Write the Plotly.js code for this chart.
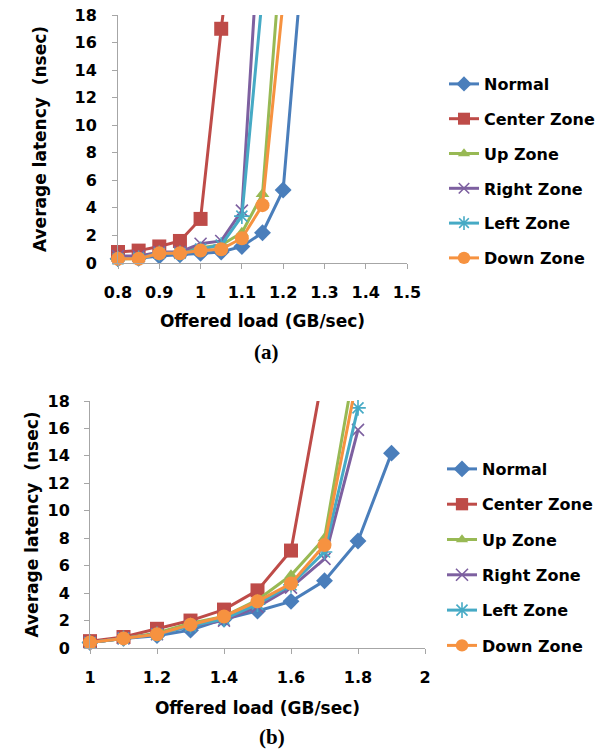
<!DOCTYPE html>
<html>
<head>
<meta charset="utf-8">
<script src="https://cdn.plot.ly/plotly-3.0.1.min.js"></script>
<style>html,body{margin:0;padding:0;background:#fff;}#chart{width:605px;height:749px;}</style>
</head>
<body>
<div id="chart"></div>
<script>
// ---- Data: chart (a) ----
const seriesNames = ["Normal", "Center Zone", "Up Zone", "Right Zone", "Left Zone", "Down Zone"];
const loadA = [0.8, 0.85, 0.9, 0.95, 1.0, 1.05, 1.1, 1.15, 1.2, 1.25];
const normalA = [0.3, 0.35, 0.5, 0.6, 0.7, 0.8, 1.2, 2.2, 5.3, 23];
const centerA = [0.8, 0.9, 1.2, 1.6, 3.2, 17, 29];
const upA     = [0.3, 0.3, 0.7, 0.8, 1.1, 1.3, 2.2, 5.0, 24.5];
const rightA  = [0.5, 0.5, 0.8, 0.8, 1.4, 1.6, 3.8, 28];
const leftA   = [0.3, 0.35, 0.7, 0.7, 1.0, 1.3, 3.4, 19.5];
const downA   = [0.3, 0.3, 0.7, 0.7, 0.9, 1.0, 1.8, 4.2, 19];

// ---- Data: chart (b) ----
const loadB = [1.0, 1.1, 1.2, 1.3, 1.4, 1.5, 1.6, 1.7, 1.8, 1.9];
const normalB = [0.4, 0.7, 0.9, 1.3, 2.1, 2.7, 3.4, 4.9, 7.8, 14.2];
const centerB = [0.5, 0.8, 1.4, 2.0, 2.8, 4.2, 7.1, 20.6];
const upB     = [0.4, 0.7, 1.1, 1.8, 2.3, 3.5, 5.3, 8.0, 22];
const rightB  = [0.4, 0.7, 1.0, 1.6, 2.0, 3.0, 4.4, 6.5, 15.9];
const leftB   = [0.4, 0.7, 1.0, 1.6, 2.1, 3.2, 4.6, 7.0, 17.5];
const downB   = [0.4, 0.7, 1.0, 1.7, 2.3, 3.4, 4.7, 7.5, 20];

const yTicks = [0, 2, 4, 6, 8, 10, 12, 14, 16, 18];
const yMax = 18;

// ---- Styles ----
const colors = ["#4A7EBB", "#BE4B48", "#98B954", "#7D60A0", "#46AAC5", "#F69240"];
const symbols = ["diamond", "square", "triangle-up", "x-thin-open", "asterisk-open", "circle"];
const sizes = [13, 14, 12, 12, 13, 14];

function mkTrace(i, xs, ys, xa, ya, leg) {
  const n = ys.length;
  return {
    type: "scatter", mode: "lines+markers",
    name: seriesNames[i],
    x: xs.slice(0, n), y: ys,
    xaxis: xa, yaxis: ya,
    legend: leg, legendgroup: leg + i,
    cliponaxis: false,
    line: {color: colors[i], width: 3},
    marker: {
      symbol: symbols[i], color: colors[i], opacity: 1,
      size: ys.map(v => v > yMax ? 0 : sizes[i]),
      line: {color: colors[i], width: (i === 3 || i === 4) ? 1.6 : 0}
    }
  };
}

const setA = [normalA, centerA, upA, rightA, leftA, downA];
const setB = [normalB, centerB, upB, rightB, leftB, downB];
const traces = [];
setA.forEach((ys, i) => traces.push(mkTrace(i, loadA, ys, "x", "y", "legend")));
setB.forEach((ys, i) => traces.push(mkTrace(i, loadB, ys, "x2", "y2", "legend2")));

const FF = "DejaVu Sans, sans-serif";
const tickFont = {family: FF, size: 16, color: "#000", weight: "bold"};
const titleFont = {family: FF, size: 17, color: "#000", weight: "bold"};
const legFont = {family: FF, size: 16, color: "#000", weight: "bold"};

function xAxis(domain, range, dtick, anchor, standoff) {
  return {
    domain: domain, range: range, dtick: dtick, tick0: range[0], anchor: anchor,
    showgrid: false, zeroline: false, showline: true, linecolor: "#A6A6A6", linewidth: 1,
    ticks: "outside", ticklen: 5, tickcolor: "#A6A6A6",
    tickfont: tickFont, ticklabelstandoff: 10,
    title: {text: "Offered load (GB/sec)", font: titleFont, standoff: standoff}
  };
}
function yAxis(domain, anchor, standoff, tls) {
  return {
    domain: domain, range: [0, yMax], tickvals: yTicks, anchor: anchor,
    showgrid: false, zeroline: false, showline: true, linecolor: "#A6A6A6", linewidth: 1,
    ticks: "outside", ticklen: 5, tickcolor: "#A6A6A6",
    tickfont: tickFont, ticklabelstandoff: tls,
    title: {text: "Average latency\u00a0 (nsec)", font: titleFont, standoff: standoff}
  };
}

const layout = {
  width: 605, height: 749,
  margin: {l: 0, r: 0, t: 0, b: 0},
  paper_bgcolor: "#fff", plot_bgcolor: "#fff",
  showlegend: true,
  xaxis: xAxis([118/605, 407/605], [0.8, 1.5], 0.1, "y", 13),
  yaxis: yAxis([1 - 263/749, 1 - 15/749], "x", 23, 12),
  xaxis2: xAxis([90/605, 425/605], [1, 2], 0.2, "y2", 15),
  yaxis2: yAxis([1 - 648/749, 1 - 401/749], "x2", 4, 11),
  legend: {
    x: 444/605, y: 1 - 67/749, xanchor: "left", yanchor: "top",
    font: legFont, tracegroupgap: 11, bgcolor: "rgba(0,0,0,0)", itemsizing: "trace"
  },
  legend2: {
    x: 442/605, y: 1 - 452/749, xanchor: "left", yanchor: "top",
    font: legFont, tracegroupgap: 11.5, bgcolor: "rgba(0,0,0,0)", itemsizing: "trace"
  },
  annotations: [
    {text: "(a)", xref: "paper", yref: "paper", x: 266/605, y: 1 - 352/749,
     showarrow: false, xanchor: "center", yanchor: "middle",
     font: {family: "Liberation Serif, serif", size: 21, color: "#000", weight: "bold"}},
    {text: "(b)", xref: "paper", yref: "paper", x: 272/605, y: 1 - 737/749,
     showarrow: false, xanchor: "center", yanchor: "middle",
     font: {family: "Liberation Serif, serif", size: 21, color: "#000", weight: "bold"}}
  ]
};

Plotly.newPlot("chart", traces, layout, {displayModeBar: false, staticPlot: true});
</script>
</body>
</html>
